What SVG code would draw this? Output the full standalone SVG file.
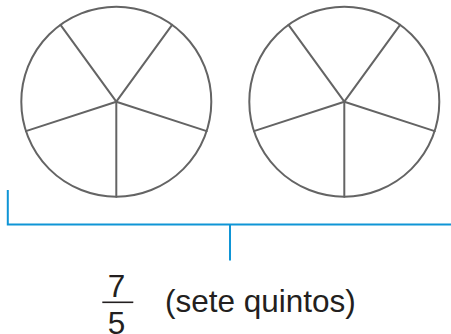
<svg xmlns="http://www.w3.org/2000/svg" width="451" height="334" viewBox="0 0 451 334">
<style>
.c{fill:none;stroke:#646464;stroke-width:2}
.s{stroke:#646464;stroke-width:2;stroke-linecap:round}
.b{fill:none;stroke:#0f95d6;stroke-width:2}
.t{font-family:"Liberation Sans",Arial,sans-serif;fill:#231f20}
</style>
<defs>
<g id="pie">
<circle class="c" cx="0" cy="0" r="95"/>
<line class="s" x1="0" y1="0" x2="0" y2="95"/>
<line class="s" x1="0" y1="0" x2="-55.8" y2="-76.9"/>
<line class="s" x1="0" y1="0" x2="55.8" y2="-76.9"/>
<line class="s" x1="0" y1="0" x2="90.4" y2="29.4"/>
<line class="s" x1="0" y1="0" x2="-90.4" y2="29.4"/>
</g>
</defs>
<g id="circle1"><use href="#pie" x="116.3" y="101.7"/></g>
<g id="circle2"><use href="#pie" x="344.3" y="101.7"/></g>
<g id="bracket">
<polyline class="b" points="7.8,190 7.8,224.6 451,224.6"/>
<line class="b" x1="230" y1="224.6" x2="230" y2="260.5"/>
</g>
<g id="label">
<text class="t" x="116.5" y="296.5" font-size="31.5" text-anchor="middle">7</text>
<line x1="102.3" y1="302.3" x2="133.3" y2="302.3" stroke="#231f20" stroke-width="1.6"/>
<text class="t" x="116.5" y="334" font-size="31.5" text-anchor="middle">5</text>
<text class="t" x="165" y="311.5" font-size="31.5">(sete quintos)</text>
</g>
</svg>
